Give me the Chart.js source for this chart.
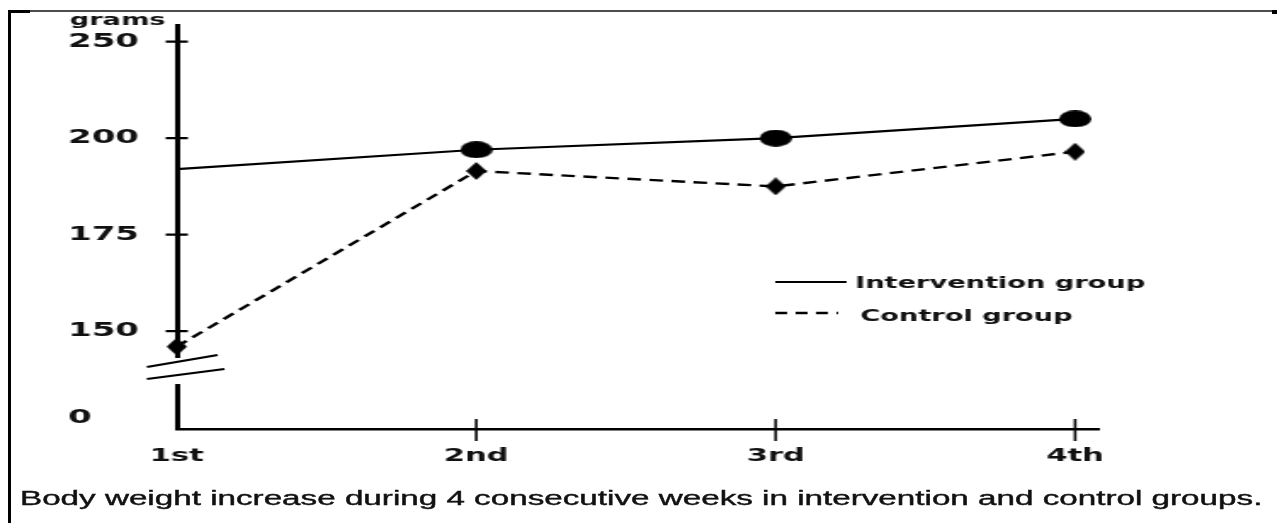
<!DOCTYPE html>
<html>
<head>
<meta charset="utf-8">
<script src="https://cdn.jsdelivr.net/npm/chart.js@4.4.1/dist/chart.umd.min.js"></script>
<style>
    html, body { margin: 0; padding: 0; background: #fff; }
    body { width: 1277px; height: 523px; position: relative; overflow: hidden; }
    .frame { position: absolute; z-index: 3; }
    #frameTop { left: 8px; top: 10px; width: 1269px; height: 2px; background: #4d4d4d; }
    #frameCorner { left: 8px; top: 10px; width: 22px; height: 3px; background: #000; }
    #frameEnd { left: 1272px; top: 10px; width: 5px; height: 4px; background: #000; }
    #frameLeft { left: 8px; top: 10px; width: 3px; height: 513px; background: #000; }
    /* the scanned figure is stretched sideways, so the chart is drawn narrow and widened */
    #stretch { position: absolute; left: 0; top: 0; width: 751px; height: 523px; transform: scaleX(1.7); transform-origin: 0 0; }
    #caption { position: absolute; left: 20px; top: 488px; font: 20px "Liberation Sans", Arial, sans-serif; line-height: 20px; color: #111; -webkit-text-stroke: 0.4px #111; white-space: nowrap; transform-origin: 0 0; }
</style>
</head>
<body>
<div class="frame" id="frameTop"></div>
<div class="frame" id="frameCorner"></div>
<div class="frame" id="frameEnd"></div>
<div class="frame" id="frameLeft"></div>
<div id="stretch"><canvas id="weightChart"></canvas></div>
<div id="caption">Body weight increase during 4 consecutive weeks in intervention and control groups.</div>

<script>
const weeks = ['1st', '2nd', '3rd', '4th'];
const interventionGrams = [192, 197, 200, 210];
const controlGrams = [146, 191.5, 187.5, 196.5];
const yTickLabels = [0, 150, 175, 200, 250];
const yAxisTitle = 'grams';

// ticks sit one step apart, except the broken stretch between 0 and 150
const breakShrink = 0.1;
const yTickPos = yTickLabels.map((v, i) => i === 0 ? 0 : i - breakShrink);

function toPos(g) {
    if (g <= 0) return 0;
    let i = 1;
    while (i < yTickLabels.length - 2 && g > yTickLabels[i + 1]) i++;
    const t = (g - yTickLabels[i]) / (yTickLabels[i + 1] - yTickLabels[i]);
    return yTickPos[i] + t * (yTickPos[i + 1] - yTickPos[i]);
}

function sprite(w, h, draw) {
    const c = document.createElement('canvas');
    c.width = w;
    c.height = h;
    const g = c.getContext('2d');
    g.fillStyle = '#000';
    draw(g, w, h);
    return c;
}

const dot = sprite(19, 17, (g, w, h) => {
    g.beginPath();
    g.ellipse(w / 2, h / 2, w / 2, h / 2, 0, 0, Math.PI * 2);
    g.fill();
});
const diamond = sprite(12, 18, (g, w, h) => {
    g.beginPath();
    g.moveTo(w / 2, 0);
    g.lineTo(w, h / 2);
    g.lineTo(w / 2, h);
    g.lineTo(0, h / 2);
    g.closePath();
    g.fill();
});

const boldFont = size => ({ family: 'DejaVu Sans', weight: 'bold', size: size });

const extras = {
    id: 'extras',
    afterDraw(chart) {
        const ctx = chart.ctx;
        const xs = chart.scales.x;
        const ys = chart.scales.y;
        const left = chart.chartArea.left;
        const bottom = chart.chartArea.bottom;
        ctx.save();
        ctx.strokeStyle = '#000';

        // axis break
        ctx.fillStyle = '#fff';
        ctx.fillRect(left - 4, ys.getPixelForValue(0.622), 8, ys.getPixelForValue(0.352) - ys.getPixelForValue(0.622));
        ctx.lineWidth = 2.2;
        ctx.beginPath();
        ctx.moveTo(left - 17.6, ys.getPixelForValue(0.529));
        ctx.lineTo(left + 24, ys.getPixelForValue(0.653));
        ctx.moveTo(left - 17.6, ys.getPixelForValue(0.404));
        ctx.lineTo(left + 28, ys.getPixelForValue(0.508));
        ctx.stroke();

        // tick marks crossing the axes
        ctx.beginPath();
        yTickPos.forEach((p, i) => {
            if (i === 0) return;
            const y = ys.getPixelForValue(p);
            ctx.moveTo(left - 6.5, y);
            ctx.lineTo(left + 6.5, y);
        });
        ctx.stroke();
        ctx.lineWidth = 1.6;
        ctx.beginPath();
        weeks.forEach((w, i) => {
            if (i === 0) return;
            const x = xs.getPixelForValue(i);
            ctx.moveTo(x, bottom - 10);
            ctx.lineTo(x, bottom + 12);
        });
        ctx.stroke();

        // legend
        const rows = [
            { y: 282, end: 498, textX: 503, base: 288 },
            { y: 313, end: 493, textX: 506, base: 321 }
        ];
        ctx.font = 'bold 16px "DejaVu Sans"';
        ctx.textBaseline = 'alphabetic';
        chart.data.datasets.forEach((ds, i) => {
            const r = rows[i];
            ctx.lineWidth = ds.borderWidth;
            ctx.setLineDash(ds.borderDash ? [7, 5] : []);
            ctx.beginPath();
            ctx.moveTo(456, r.y);
            ctx.lineTo(r.end, r.y);
            ctx.stroke();
            ctx.setLineDash([]);
            ctx.fillStyle = '#111';
            ctx.fillText(ds.label, r.textX, r.base);
        });

        ctx.fillText(yAxisTitle, 41, 25);
        ctx.restore();
    }
};

new Chart(document.getElementById('weightChart'), {
    type: 'line',
    data: {
        datasets: [{
            label: 'Intervention group',
            data: interventionGrams.map((g, i) => ({ x: i, y: toPos(g) })),
            borderColor: '#000',
            borderWidth: 2.2,
            pointStyle: dot,
            pointRadius: [0, 8, 8, 8],
            tension: 0,
            clip: false
        }, {
            label: 'Control group',
            data: controlGrams.map((g, i) => ({ x: i, y: toPos(g) })),
            borderColor: '#000',
            borderWidth: 2.4,
            borderDash: [8, 5],
            pointStyle: diamond,
            pointRadius: 8,
            tension: 0,
            clip: false
        }]
    },
    options: {
        responsive: true,
        maintainAspectRatio: false,
        animation: false,
        layout: { padding: { left: 40, top: 25, right: 104.5, bottom: 0 } },
        plugins: { legend: { display: false }, tooltip: { enabled: false } },
        scales: {
            x: {
                type: 'linear',
                min: 0,
                max: 3.08,
                afterBuildTicks: s => { s.ticks = weeks.map((w, i) => ({ value: i })); },
                afterFit: s => { s.height = 94; },
                grid: { display: false, drawTicks: false },
                border: { color: '#000', width: 2.5 },
                ticks: {
                    callback: (v, i) => weeks[i],
                    font: boldFont(18),
                    color: '#111',
                    padding: 17,
                    maxRotation: 0,
                    autoSkip: false
                }
            },
            y: {
                type: 'linear',
                min: -0.114,
                max: 4.073,
                afterBuildTicks: s => { s.ticks = yTickPos.map(p => ({ value: p })); },
                afterFit: s => { s.width = 64; },
                grid: { display: false, drawTicks: false },
                border: { color: '#000', width: 3 },
                ticks: {
                    callback: (v, i) => yTickLabels[i],
                    crossAlign: 'far',
                    font: boldFont(20),
                    color: '#111',
                    autoSkip: false
                }
            }
        }
    },
    plugins: [extras]
});

const caption = document.getElementById('caption');
caption.style.transform = 'scaleX(' + (1242 / caption.offsetWidth) + ')';
</script>
</body>
</html>
